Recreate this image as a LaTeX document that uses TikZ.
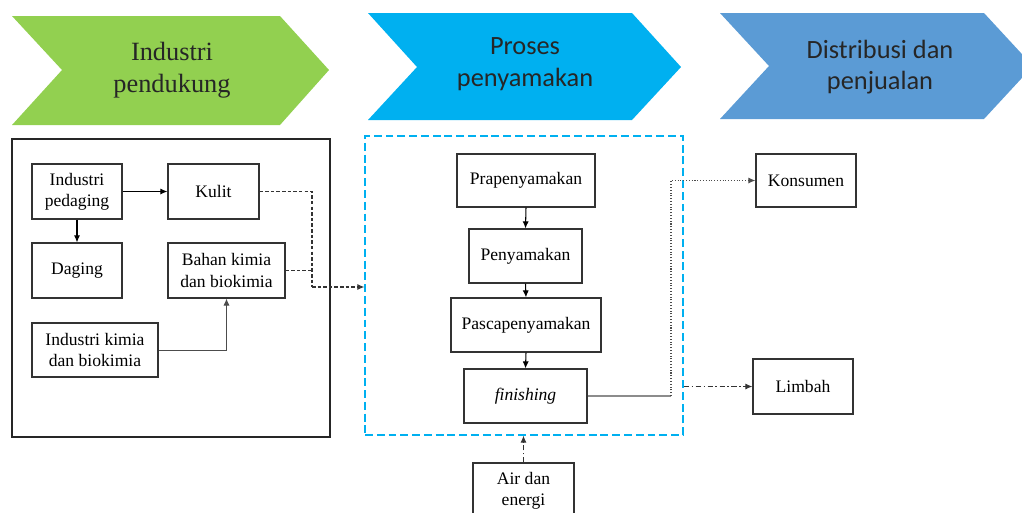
\documentclass[tikz,border=0pt]{standalone}
\usepackage{fontspec}
\setmainfont{Liberation Serif}
\newfontfamily\chevfont{Carlito}
\usetikzlibrary{arrows.meta}
\definecolor{chevgreen}{HTML}{92D050}
\definecolor{chevcyan}{HTML}{00B0F0}
\definecolor{chevblue}{HTML}{5B9BD5}
\tikzset{box/.style={
    draw=black!80, line width=0.7pt, align=center, inner sep=2pt,
    font=\fontsize{10}{12}\selectfont},
  chevtext/.style={align=center, text=black!85,
    font=\chevfont\fontsize{15}{18}\selectfont},
  linkdash/.style={black!80, line width=0.6pt, dash pattern=on 2pt off 1.2pt},
  linkdot/.style={black!70, line width=0.6pt, densely dotted},
  linkdashdot/.style={black!80, line width=0.6pt,
    dash pattern=on 3pt off 1.5pt on 0.8pt off 1.5pt}
}

\begin{document}
\begin{tikzpicture}[x=0.02cm, y=-0.02cm, >={Latex[length=4pt,width=3.5pt]}]
        \useasboundingbox (0,0) rectangle (1022,512);
        %chevrons
        \fill[chevgreen] (12,16) -- (280,16) -- (329,70) -- (280,125) -- (12,125) -- (62,70) -- cycle;
        \fill[chevcyan] (368,13) -- (632,13) -- (681,67) -- (632,120) -- (368,120) -- (417,67) -- cycle;
        \fill[chevblue] (720,13) -- (984,13) -- (1033,66) -- (984,119) -- (720,119) -- (769,66) -- cycle;
        \node[chevtext, font=\rmfamily\fontsize{15}{18}\selectfont](head1) at (172,70){Industri\\pendukung};
        \node[chevtext](head2) at (525,64){Proses\\penyamakan};
        \node[chevtext](head3) at (880,67){Distribusi dan\\penjualan};

        %Industri pendukung
        \node[draw=black!85, line width=0.8pt, minimum width=6.36cm, minimum height=5.96cm](frame) at (171,288){};
        \node[box, minimum width=1.8cm, minimum height=1.1cm](pedaging) at (77,191.5){Industri\\pedaging};
        \node[box, minimum width=1.82cm, minimum height=1.1cm](kulit) at (213.5,191.5){Kulit};
        \node[box, minimum width=1.8cm, minimum height=1.1cm](daging) at (77,270.5){Daging};
        \node[box, minimum width=2.34cm, minimum height=1.1cm](bahan) at (226.5,270.5){Bahan kimia\\dan biokimia};
        \node[box, minimum width=2.52cm, minimum height=1.08cm](kimia) at (95,350){Industri kimia\\dan biokimia};
        \draw[->, line width=0.6pt] (pedaging.east) -- (kulit.west);
        \draw[->, line width=0.6pt] (pedaging.south) -- (daging.north);
        \draw[->, black!70, line width=0.5pt] (kimia.east) -| (bahan.south);

        %Proses penyamakan
        \node[draw=chevcyan, line width=0.8pt, dash pattern=on 4.5pt off 2.2pt, minimum width=6.36cm, minimum height=5.98cm](prosesbox) at (524,285.5){};
        \node[box, minimum width=2.76cm, minimum height=1.06cm](pra) at (526,180.5){Prapenyamakan};
        \node[box, minimum width=2.26cm, minimum height=1.08cm](penyamakan) at (525.5,256){Penyamakan};
        \node[box, minimum width=3.0cm, minimum height=1.08cm](pasca) at (526,325){Pascapenyamakan};
        \node[box, minimum width=2.46cm, minimum height=1.08cm](finishing) at (525.5,396){\textit{finishing}};
        \node[box, minimum width=2.02cm, minimum height=1.12cm](air) at (523.5,491){Air dan\\energi};
        \draw[->, line width=0.6pt] (pra.south) -- (penyamakan.north);
        \draw[->, line width=0.6pt] (penyamakan.south) -- (pasca.north);
        \draw[->, line width=0.6pt] (pasca.south) -- (finishing.north);

        % into the process
        \coordinate (j1) at (312,287);
        \draw[linkdash] (kulit.east) -| (j1);
        \draw[linkdash] (bahan.east) -- (bahan.east -| j1);
        \draw[linkdash, ->] (j1) -- (j1 -| prosesbox.west);
        \draw[linkdashdot, ->] (air.north) -- (air.north |- prosesbox.south);

        %Distribusi dan penjualan
        \node[box, minimum width=2.0cm, minimum height=1.06cm](konsumen) at (806,180.5){Konsumen};
        \node[box, minimum width=2.0cm, minimum height=1.1cm](limbah) at (803,386.5){Limbah};
        \coordinate (j2) at (671,396);
        \draw[black!45, line width=0.7pt] (finishing.east) -- (j2);
        \draw[linkdot, ->] (j2) |- (konsumen.west);
        \draw[linkdashdot, ->] (prosesbox.east |- limbah.west) -- (limbah.west);
\end{tikzpicture}
\end{document}
